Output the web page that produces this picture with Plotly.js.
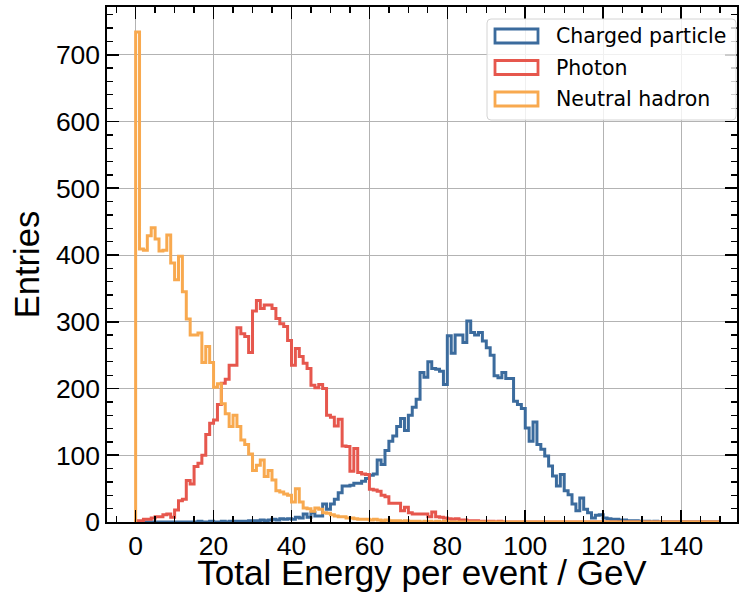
<!DOCTYPE html>
<html><head><meta charset="utf-8">
<script src="https://cdn.plot.ly/plotly-3.0.1.min.js"></script>
<style>html,body{margin:0;padding:0;background:#fff}</style>
</head><body>
<div id="chart" style="width:741px;height:592px"></div>
<script>
// Histogram bins: 150 bins of 1 GeV starting at 0
const binStart = 0;
const binWidth = 1;
const seriesNames = ['Charged particle', 'Photon', 'Neutral hadron'];
const xTickVals = [0, 20, 40, 60, 80, 100, 120, 140];
const yTickVals = [0, 100, 200, 300, 400, 500, 600, 700];

const charged = [
  0,0,0,0,0,0,0,0,0,0,
  0,0,0,0,0,0,1,0,0,1,
  0,0,1,0,1,1,1,1,1,2,
  2,2,3,2,3,4,3,5,4,5,
  4,7,6,12,7,14,9,9,27,19,
  27,34,44,54,54,55,58,58,61,65,
  70,72,93,86,107,121,129,143,155,137,
  160,172,184,224,217,240,230,229,226,206,
  279,253,280,280,269,301,284,280,284,271,
  261,250,219,216,224,215,215,181,176,170,
  141,121,150,116,109,99,84,69,54,71,
  47,41,27,17,36,19,14,6,10,11,
  6,5,4,4,3,3,2,2,2,1,
  1,1,0,1,0,0,0,0,0,0,
  0,0,0,0,0,0,0,0,0,0
];
const photon = [
  2,2,4,4,6,8,8,11,12,7,
  18,32,34,62,57,83,88,100,131,148,
  153,176,208,214,235,235,291,282,278,254,
  316,332,320,325,325,320,305,297,293,272,
  235,260,248,238,230,205,201,206,200,160,
  157,144,154,114,113,76,110,74,72,71,
  49,48,46,40,38,28,28,28,17,22,
  14,12,12,12,12,8,15,8,7,6,
  5,4,5,3,3,2,2,2,1,1,
  1,1,0,1,0,0,0,0,0,0,
  0,0,0,0,0,0,0,0,0,0,
  0,0,0,0,0,0,0,0,0,0,
  0,0,0,0,0,0,0,0,0,0,
  0,0,0,0,0,0,0,0,0,0,
  0,0,0,0,0,0,0,0,0,0
];
const neutral = [
  734,409,407,429,441,424,406,407,430,388,
  363,398,345,304,280,280,283,239,263,239,
  202,207,177,162,143,160,143,123,116,102,
  77,85,93,68,77,63,47,45,42,40,
  30,50,30,21,20,16,21,19,14,13,
  11,9,8,8,6,6,5,4,4,4,
  3,4,3,2,3,2,2,2,1,2,
  1,1,1,0,1,1,0,1,0,1,
  0,0,0,0,0,0,0,0,0,0,
  0,0,0,0,0,0,0,0,0,0,
  0,0,0,0,0,0,0,0,0,0,
  0,0,0,0,0,0,0,0,0,0,
  0,0,0,0,0,0,0,0,0,0,
  0,0,0,0,0,0,0,0,0,0,
  0,0,0,0,0,0,0,0,0,0
];

const colors = ['#3b6b9d', '#e6574d', '#f8a94f'];

function stepXY(vals) {
  const x = [binStart], y = [0];
  for (let i = 0; i < vals.length; i++) { x.push(binStart + i * binWidth); y.push(vals[i]); }
  const end = binStart + vals.length * binWidth;
  x.push(end); y.push(vals[vals.length - 1]);
  x.push(end); y.push(0);
  return {x, y};
}

const allSeries = [charged, photon, neutral];
const traces = allSeries.map((vals, i) => {
  const s = stepXY(vals);
  return {type: 'scatter', mode: 'lines', x: s.x, y: s.y, name: seriesNames[i],
          line: {color: colors[i], width: 3, shape: 'hv'}, hoverinfo: 'skip'};
});

// plot-area pixel geometry for the hand-drawn legend
const L = 107, R = 737, T = 7, B = 522;
const px = v => (v - L) / (R - L);
const py = v => (B - v) / (B - T);

function roundRect(x0, y0, x1, y1, r) {
  const rx = r / (R - L), ry = r / (B - T);
  const a = px(x0), b = px(x1), top = py(y0), bot = py(y1);
  return `M${a+rx},${top} L${b-rx},${top} Q${b},${top} ${b},${top-ry} L${b},${bot+ry} Q${b},${bot} ${b-rx},${bot} L${a+rx},${bot} Q${a},${bot} ${a},${bot+ry} L${a},${top-ry} Q${a},${top} ${a+rx},${top} Z`;
}

const shapes = [{type: 'path', xref: 'paper', yref: 'paper', path: roundRect(487, 19, 736, 120, 4),
  fillcolor: 'rgba(255,255,255,0.8)', line: {color: '#d4d4d4', width: 1}, layer: 'above'}];
const annotations = [];
const rowY = [36, 67.5, 99];
seriesNames.forEach((n, i) => {
  shapes.push({type: 'rect', xref: 'paper', yref: 'paper', x0: px(495), x1: px(538), y0: py(rowY[i] - 7), y1: py(rowY[i] + 7),
    line: {color: colors[i], width: 2.8}, fillcolor: 'rgba(0,0,0,0)', layer: 'above'});
  annotations.push({xref: 'paper', yref: 'paper', x: px(554), y: py(rowY[i]), xanchor: 'left', yanchor: 'middle',
    text: n, showarrow: false, font: {family: 'DejaVu Sans', size: 20.5, color: '#000'}});
});

const axisCommon = {
  ticks: 'inside', ticklen: 12, tickwidth: 1.6, tickcolor: '#000',
  showline: true, linecolor: '#000', linewidth: 1.6, mirror: 'allticks',
  showgrid: true, gridcolor: '#b3b3b3', gridwidth: 1, zeroline: false,
  tickfont: {family: 'Liberation Sans', size: 26.5, color: '#000'}
};

const layout = {
  width: 741, height: 592,
  margin: {l: L, r: 741 - R, t: T, b: 592 - B, pad: 0},
  paper_bgcolor: '#fff', plot_bgcolor: '#fff',
  showlegend: false,
  font: {family: 'Liberation Sans', color: '#000'},
  xaxis: Object.assign({}, axisCommon, {
    range: [-7.35, 154.35], tickmode: 'array', tickvals: xTickVals,
    minor: {ticks: 'inside', ticklen: 6, tickwidth: 1.3, tickcolor: '#000', dtick: 5, tick0: 0, showgrid: false},
    title: {text: 'Total Energy per event / GeV', font: {family: 'Liberation Sans', size: 35, color: '#000'}, standoff: 5}
  }),
  yaxis: Object.assign({}, axisCommon, {
    range: [0, 771.6], tickmode: 'array', tickvals: yTickVals,
    minor: {ticks: 'inside', ticklen: 6, tickwidth: 1.3, tickcolor: '#000', dtick: 20, tick0: 0, showgrid: false},
    title: {text: 'Entries', font: {family: 'Liberation Sans', size: 34.5, color: '#000'}, standoff: 6}
  }),
  shapes: shapes,
  annotations: annotations
};

Plotly.newPlot('chart', traces, layout, {displayModeBar: false, staticPlot: true});
</script>
</body></html>
